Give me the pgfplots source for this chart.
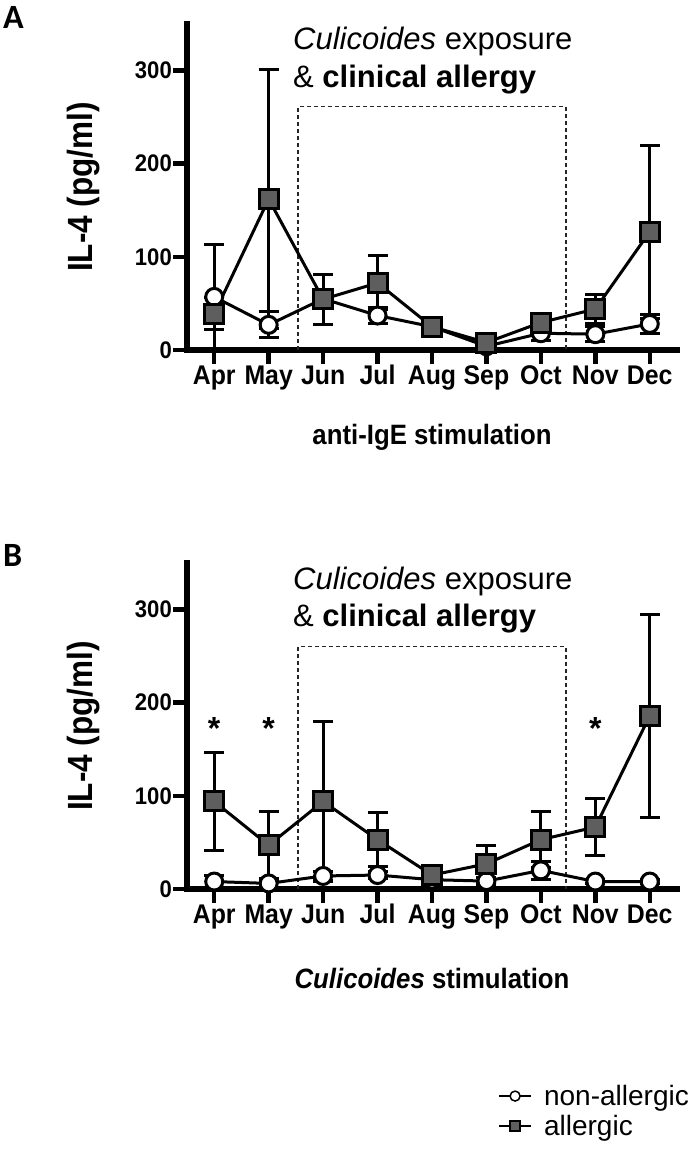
\documentclass[border=0pt]{standalone}
\usepackage{pgfplots}
\usepackage{pgfplotstable}
\pgfplotsset{compat=1.18}
\usepackage{fontspec}
\setmainfont{Liberation Sans}
\newfontfamily\narrow[FakeStretch=0.92]{Liberation Sans}
\newfontfamily\narrowl[FakeStretch=0.9]{Liberation Sans}
\newfontfamily\carlito{Carlito}
\definecolor{sqgray}{HTML}{5E5E5E}

\pgfplotstableread{
x y ep em
1 57 56 56
2 27 14 14
3 55 4 4
4 37 9 9
5 25 3 3
6 4 3 3
7 18 8 8
8 17 8 8
9 28 10 10
}\Anon
\pgfplotstableread{
x y ep em
1 39 17 17
2 162 139 139
3 54.5 27 27
4 72 29 29
5 25 3 3
6 8 3 3
7 29.5 4 4
8 44 16 16
9 127 93 93
}\Aall
\pgfplotstableread{
x y ep em
1 8 7 7
2 6 4 4
3 14 5 5
4 15 4 4
5 10 3 3
6 8.5 4 4
7 20 10 10
8 8 2 2
9 8 2 2
}\Bnon
\pgfplotstableread{
x y ep em
1 94 53 53
2 47 36 36
3 94 86 86
4 53 29 29
5 15 3 3
6 27 20 20
7 53 30 30
8 66.5 31 31
9 186 109 109
}\Ball

\pgfplotsset{
  panel/.style={
    scale only axis, width=490pt, height=326pt,
    xmin=0.5, xmax=9.5, ymin=0, ymax=350,
    clip=false,
    axis x line*=bottom, axis y line*=left,
    axis line style={line width=6pt, line cap=rect},
    xtick={1,...,9},
    xticklabels={Apr,May,Jun,Jul,Aug,Sep,Oct,Nov,Dec},
    ytick={0,100,200,300},
    tick align=outside,
    major tick length=14pt,
    tick style={line width=4.5pt, black},
    /pgf/number format/assume math mode=true,
    xticklabel style={font=\fontsize{27}{27}\selectfont\narrow\bfseries, inner sep=1pt,
      text height=19pt, text depth=5pt},
    yticklabel style={font=\fontsize{24}{24}\selectfont\narrow\bfseries, inner sep=1pt},
    ylabel={IL-4 (pg/ml)},
    ylabel style={at={(axis description cs:-0.212,0.5)}, anchor=center,
      font=\fontsize{35}{35}\selectfont\narrowl\bfseries},
    xlabel style={anchor=center,
      font=\fontsize{28}{28}\selectfont\narrow\bfseries},
  },
  nonstyle/.style={black, line width=3pt, mark=*, mark size=8.5pt,
    mark options={fill=white, line width=3pt, solid},
    error bars/y dir=both, error bars/y explicit,
    error bars/error bar style={line width=3pt, black},
    error bars/error mark options={rotate=90, mark size=10pt, line width=3pt, black}},
  allstyle/.style={black, line width=3pt, mark=square*, mark size=9.5pt,
    mark options={fill=sqgray, line width=3pt, solid},
    error bars/y dir=both, error bars/y explicit,
    error bars/error bar style={line width=3pt, black},
    error bars/error mark options={rotate=90, mark size=10pt, line width=3pt, black}},
}

\begin{document}
\begin{tikzpicture}
\path[use as bounding box] (0pt,0pt) rectangle (698pt,-1150pt);

\node[anchor=north west, inner sep=0pt] at (3pt,-6pt) {\carlito\bfseries\fontsize{34}{34}\selectfont A};
\node[anchor=north west, inner sep=0pt] at (3pt,-544pt) {\carlito\bfseries\fontsize{34}{34}\selectfont B};

% Panel A
\begin{axis}[panel, at={(187pt,-350pt)}, anchor=south west,
  xlabel={anti-IgE stimulation},
  xlabel style={at={(axis description cs:0.5,-0.269)}}]
\draw[dashed, dash pattern=on 4pt off 3pt, line width=1.2pt, black!85]
  (axis cs:2.54,0) -- (axis cs:2.54,261) -- (axis cs:7.46,261) -- (axis cs:7.46,0);
\node[anchor=base west, inner sep=0pt, font=\fontsize{31}{31}\selectfont] at (axis cs:2.447,323) {\textit{Culicoides} exposure};
\node[anchor=base west, inner sep=0pt, font=\fontsize{31}{31}\selectfont] at (axis cs:2.447,282) {\& \textbf{clinical allergy}};
\addplot[nonstyle] table[x=x, y=y, y error plus=ep, y error minus=em] {\Anon};
\addplot[allstyle] table[x=x, y=y, y error plus=ep, y error minus=em] {\Aall};
\end{axis}

% Panel B
\begin{axis}[panel, at={(187pt,-889pt)}, anchor=south west,
  xlabel={\textit{Culicoides} stimulation},
  xlabel style={at={(axis description cs:0.5,-0.273)}},
  legend style={at={(axis description cs:0.635,-0.595)}, anchor=north west,
    draw=none, fill=none, inner sep=0pt, row sep=4pt,
    font=\fontsize{28}{28}\selectfont, legend cell align=left},
  legend image code/.code={%
    \path[draw=none, fill=none] (0pt,0pt) (43pt,0pt);
    \draw[#1, line width=1.5pt, mark=none] (0pt,0pt) -- (32pt,0pt);
    \draw[#1, mark size=5pt, every mark/.append style={line width=1.5pt}] plot coordinates {(16pt,0pt)};}
  ]
\draw[dashed, dash pattern=on 4pt off 3pt, line width=1.2pt, black!85]
  (axis cs:2.54,0) -- (axis cs:2.54,260) -- (axis cs:7.46,260) -- (axis cs:7.46,0);
\node[anchor=base west, inner sep=0pt, font=\fontsize{31}{31}\selectfont] at (axis cs:2.447,322) {\textit{Culicoides} exposure};
\node[anchor=base west, inner sep=0pt, font=\fontsize{31}{31}\selectfont] at (axis cs:2.447,282) {\& \textbf{clinical allergy}};
\node[anchor=base, inner sep=0pt, font=\fontsize{32}{32}\selectfont\bfseries] at (axis cs:1,160) {*};
\node[anchor=base, inner sep=0pt, font=\fontsize{32}{32}\selectfont\bfseries] at (axis cs:2,160) {*};
\node[anchor=base, inner sep=0pt, font=\fontsize{32}{32}\selectfont\bfseries] at (axis cs:8,160) {*};
\addplot[nonstyle] table[x=x, y=y, y error plus=ep, y error minus=em] {\Bnon};
\addlegendentry{non-allergic}
\addplot[allstyle] table[x=x, y=y, y error plus=ep, y error minus=em] {\Ball};
\addlegendentry{allergic}
\end{axis}
\end{tikzpicture}
\end{document}
